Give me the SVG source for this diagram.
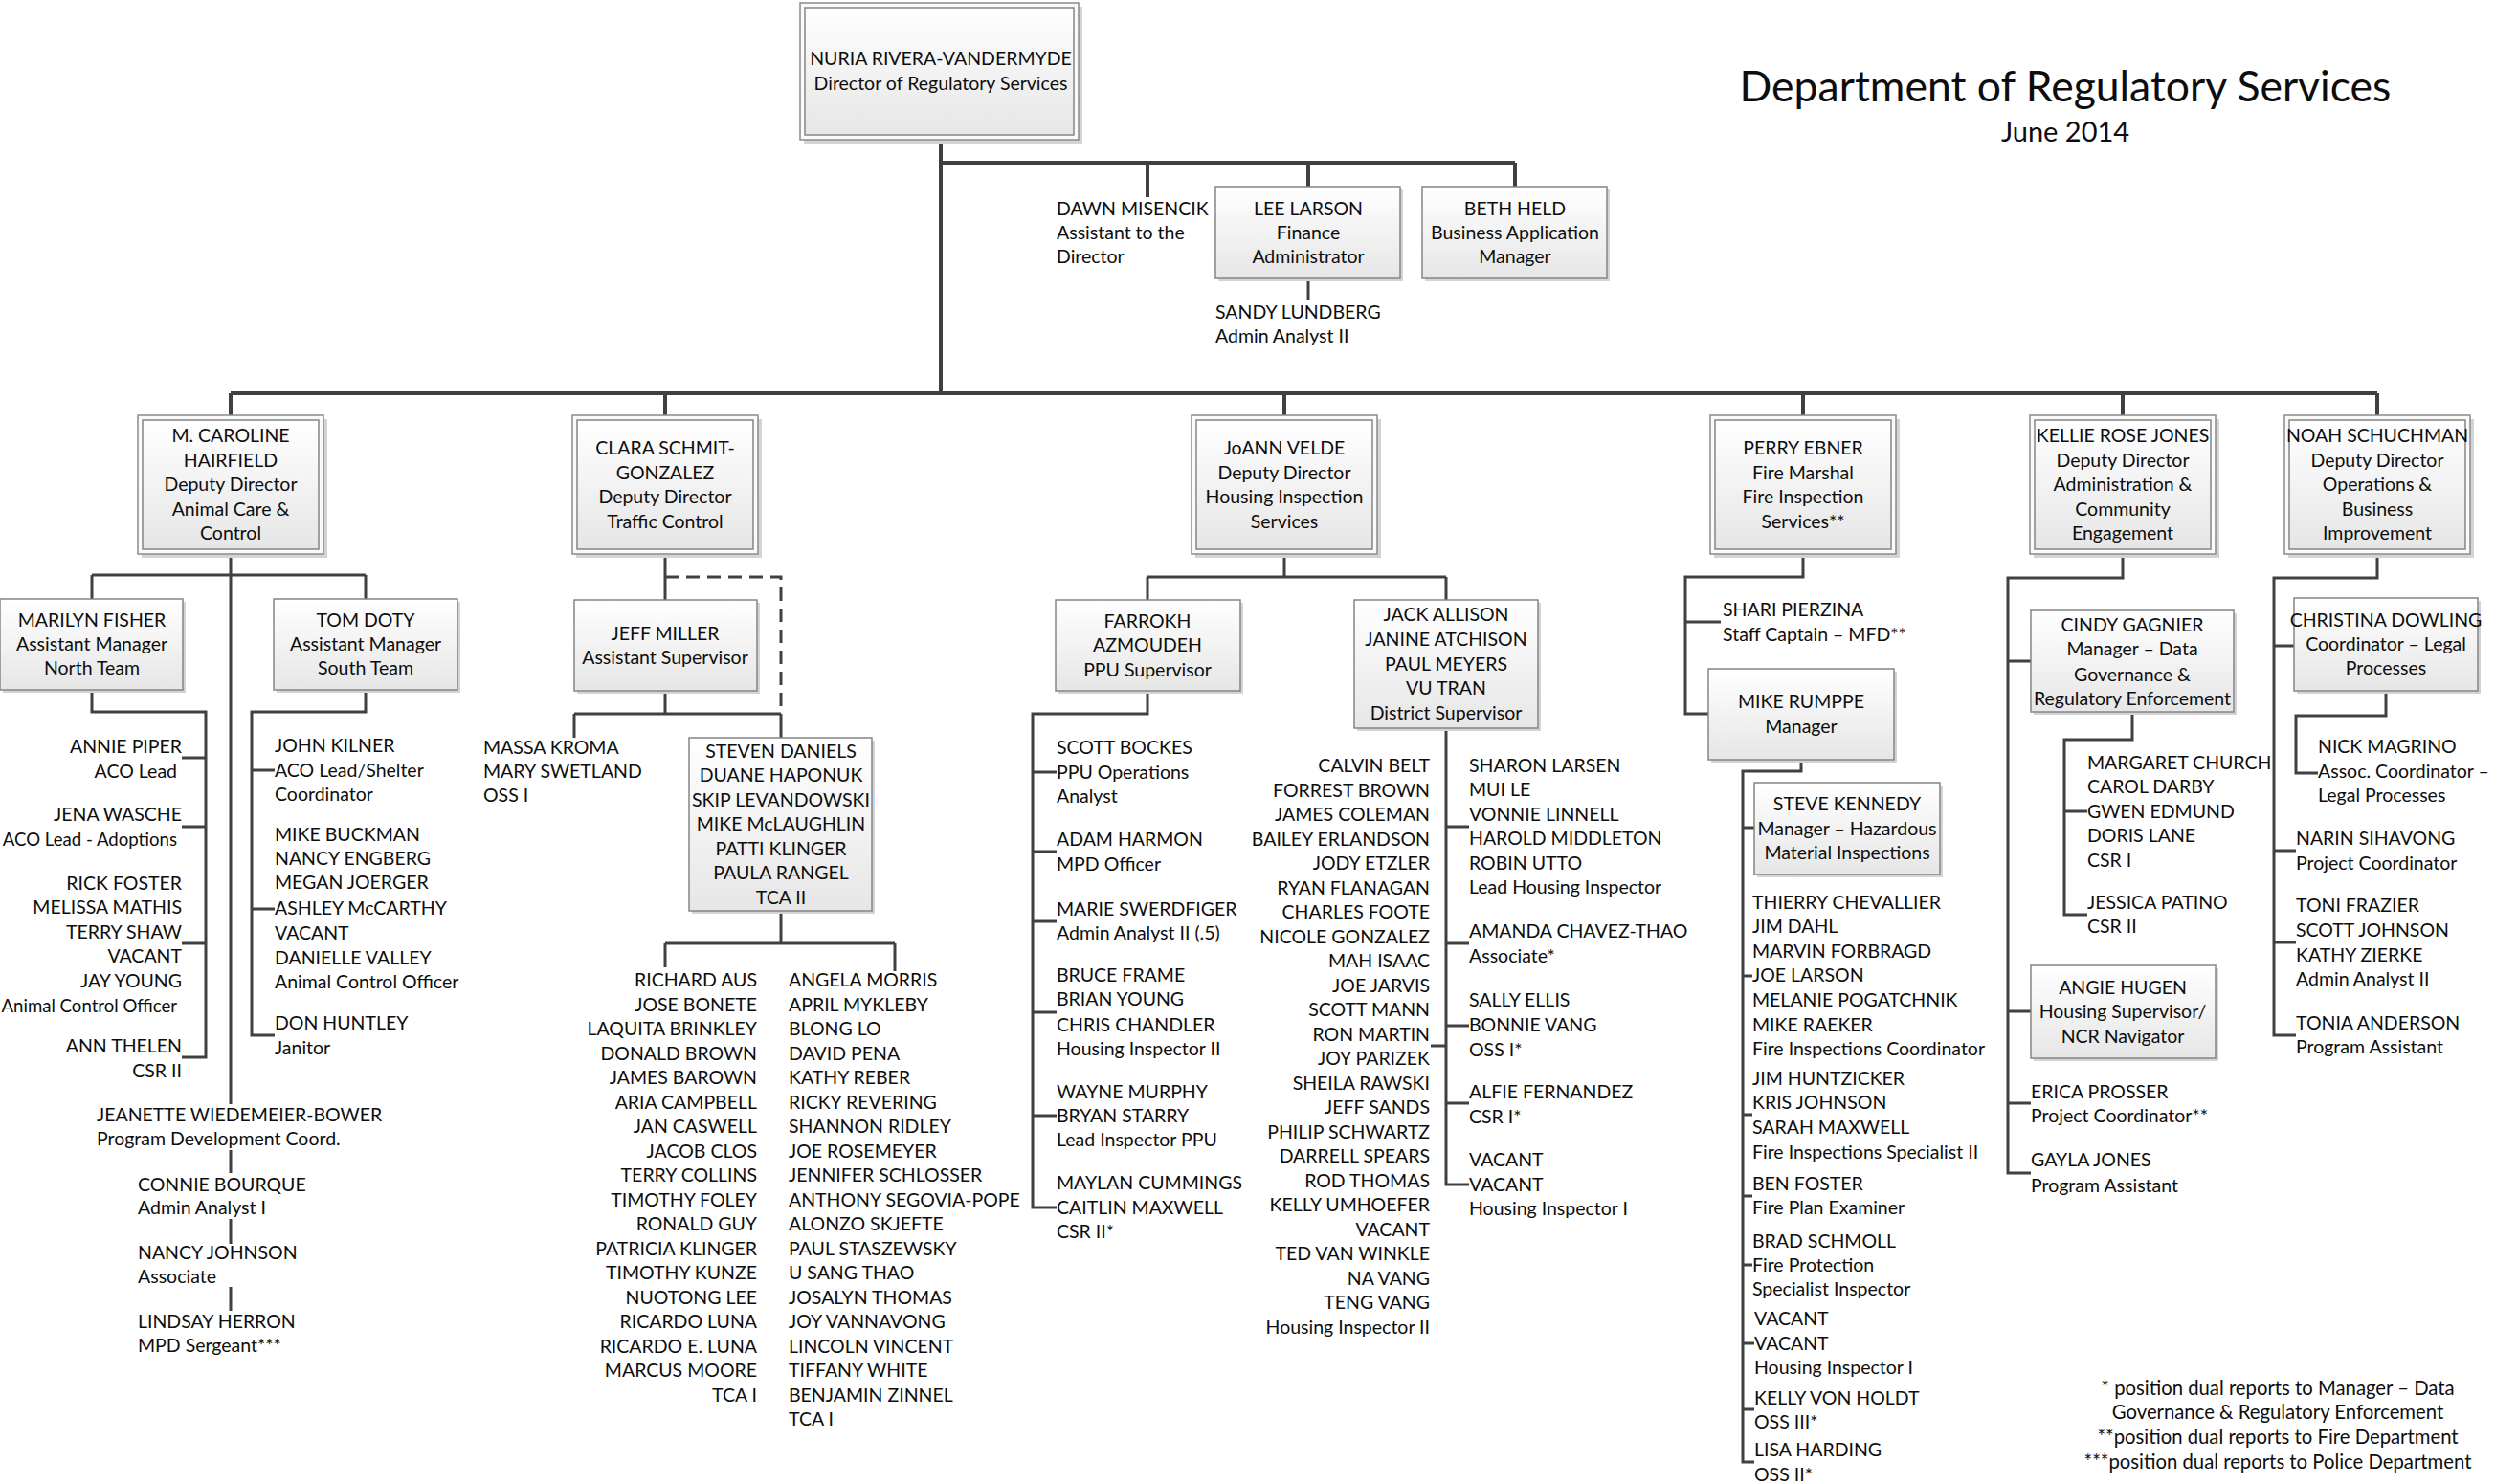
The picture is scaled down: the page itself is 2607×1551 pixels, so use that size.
<svg xmlns="http://www.w3.org/2000/svg" width="2607" height="1551" viewBox="0 0 2607 1551">
<style>
.t{font-family:Lato,"Open Sans","Liberation Sans",sans-serif;font-size:19.5px;fill:#0d0d0d}
.c{text-anchor:middle}
.r{text-anchor:end}
.sm{font-size:18.6px}
.sh{fill:#d4d4d4}
.b{fill:url(#g);stroke:#858585;stroke-width:1.5}
.bo{fill:#fafafa;stroke:#8a8a8a;stroke-width:1.5}
.ln{fill:none;stroke:#404040;stroke-width:3}
.lt{fill:none;stroke:#404040;stroke-width:4}
.ds{fill:none;stroke:#404040;stroke-width:3;stroke-dasharray:14 8}
</style>
<defs>
<linearGradient id="g" x1="0" y1="0" x2="0" y2="1"><stop offset="0" stop-color="#ffffff"/><stop offset="1" stop-color="#e6e6e6"/></linearGradient>
</defs>
<rect width="2607" height="1551" fill="#fff"/>

<g id="connectors">
<path class="lt" d="M983 146V411M983 170H1583M1199 170V206M1367 170V195M1583 170V195M241 411H2484M241 411V434M695 411V434M1342 411V434M1884 411V434M2218 411V434M2484 411V434"/>
<path class="ln" d="M1367 291V314"/>
<path class="ln" d="M241 579V1154M96 601H382M96 601V626M382 601V626"/>
<path class="ln" d="M96 721V744H215V1105H190M190 792H215M190 864H215M190 986H215"/>
<path class="ln" d="M382 721V744H263V1082H287M263 805H287M263 950H287"/>
<path class="ln" d="M241 1202V1226M241 1274V1300M241 1345V1370"/>
<path class="ln" d="M695 579V627M695 722V746M600 746H816M600 746V771M816 746V771M816 952V986M695 986H935M695 986V1011M935 986V1015"/>
<path class="ds" d="M695 603H816V746"/>
<path class="ln" d="M1342 579V603M1199 603H1511M1199 603V627M1511 603V627"/>
<path class="ln" d="M1199 722V746H1079V1262H1104M1079 807H1104M1079 890H1104M1079 963H1104M1079 1058H1104M1079 1166H1104"/>
<path class="ln" d="M1511 761V1238H1535M1495 1093H1511M1511 864H1535M1511 986H1535M1511 1072H1535M1511 1153H1535"/>
<path class="ln" d="M1884 579V603H1761V746H1785M1761 650H1798"/>
<path class="ln" d="M1882 794V806H1821V1528H1833M1821 865H1833M1821 1020H1831M1821 1165H1831M1821 1250H1831M1821 1322H1831M1821 1404H1833M1821 1473H1833"/>
<path class="ln" d="M2218 579V604H2098V1226H2122M2098 691H2122M2098 1057H2122M2098 1153H2122"/>
<path class="ln" d="M2228 744V773H2157V956H2181M2157 848H2181"/>
<path class="ln" d="M2484 579V604H2376V1082H2399M2376 675H2397M2376 889H2399M2376 985H2399"/>
<path class="ln" d="M2493 722V748H2399V808H2422"/>
</g>

<g id="title">
<text class="t c" x="2158" y="106" style="font-size:44.5px">Department of Regulatory Services</text>
<text class="t c" x="2158" y="148" style="font-size:29px">June 2014</text>
</g>

<g id="n-director">
<rect class="sh" x="840" y="7" width="291" height="143"/>
<rect class="bo" x="836" y="3" width="291" height="143"/>
<rect class="b" x="841" y="8" width="281" height="133"/>
<text class="t c"><tspan x="983" y="68">NURIA RIVERA-VANDERMYDE</tspan><tspan x="983" y="94">Director of Regulatory Services</tspan></text>
</g>

<g id="n-dawn"><text class="t"><tspan x="1104" y="225">DAWN MISENCIK</tspan><tspan x="1104" y="250">Assistant to the</tspan><tspan x="1104" y="275">Director</tspan></text></g>

<g id="n-lee">
<rect class="sh" x="1273" y="198" width="193" height="96"/>
<rect class="b" x="1270" y="195" width="193" height="96"/>
<text class="t c"><tspan x="1367" y="225">LEE LARSON</tspan><tspan x="1367" y="250">Finance</tspan><tspan x="1367" y="275">Administrator</tspan></text>
</g>
<g id="n-sandy"><text class="t"><tspan x="1270" y="333">SANDY LUNDBERG</tspan><tspan x="1270" y="358">Admin Analyst II</tspan></text></g>

<g id="n-beth">
<rect class="sh" x="1489" y="198" width="193" height="96"/>
<rect class="b" x="1486" y="195" width="193" height="96"/>
<text class="t c"><tspan x="1583" y="225">BETH HELD</tspan><tspan x="1583" y="250">Business Application</tspan><tspan x="1583" y="275">Manager</tspan></text>
</g>

<g id="n-caroline">
<rect class="sh" x="148" y="438" width="194" height="145"/>
<rect class="bo" x="144" y="434" width="194" height="145"/>
<rect class="b" x="149" y="439" width="184" height="135"/>
<text class="t c"><tspan x="241" y="462">M. CAROLINE</tspan><tspan x="241" y="488">HAIRFIELD</tspan><tspan x="241" y="513">Deputy Director</tspan><tspan x="241" y="539">Animal Care &amp;</tspan><tspan x="241" y="564">Control</tspan></text>
</g>
<g id="n-marilyn">
<rect class="sh" x="3" y="629" width="191" height="95"/>
<rect class="b" x="0" y="626" width="191" height="95"/>
<text class="t c"><tspan x="96" y="655">MARILYN FISHER</tspan><tspan x="96" y="680">Assistant Manager</tspan><tspan x="96" y="705">North Team</tspan></text>
</g>
<g id="n-tom">
<rect class="sh" x="289" y="629" width="192" height="95"/>
<rect class="b" x="286" y="626" width="192" height="95"/>
<text class="t c"><tspan x="382" y="655">TOM DOTY</tspan><tspan x="382" y="680">Assistant Manager</tspan><tspan x="382" y="705">South Team</tspan></text>
</g>
<g id="n-north-staff"><text class="t r">
<tspan x="190" y="787">ANNIE PIPER</tspan><tspan x="190" y="813">ACO Lead</tspan>
<tspan x="190" y="858">JENA WASCHE</tspan><tspan x="190" y="884" class="sm">ACO Lead - Adoptions</tspan>
<tspan x="190" y="930">RICK FOSTER</tspan><tspan x="190" y="955">MELISSA MATHIS</tspan><tspan x="190" y="981">TERRY SHAW</tspan><tspan x="190" y="1006">VACANT</tspan><tspan x="190" y="1032">JAY YOUNG</tspan><tspan x="190" y="1058" class="sm">Animal Control Officer</tspan>
<tspan x="190" y="1100">ANN THELEN</tspan><tspan x="190" y="1126">CSR II</tspan>
</text></g>
<g id="n-south-staff"><text class="t">
<tspan x="287" y="786">JOHN KILNER</tspan><tspan x="287" y="812">ACO Lead/Shelter</tspan><tspan x="287" y="837">Coordinator</tspan>
<tspan x="287" y="879">MIKE BUCKMAN</tspan><tspan x="287" y="904">NANCY ENGBERG</tspan><tspan x="287" y="929">MEGAN JOERGER</tspan><tspan x="287" y="956">ASHLEY McCARTHY</tspan><tspan x="287" y="982">VACANT</tspan><tspan x="287" y="1008">DANIELLE VALLEY</tspan><tspan x="287" y="1033">Animal Control Officer</tspan>
<tspan x="287" y="1076">DON HUNTLEY</tspan><tspan x="287" y="1102">Janitor</tspan>
</text></g>
<g id="n-jeanette"><text class="t"><tspan x="101" y="1172">JEANETTE WIEDEMEIER-BOWER</tspan><tspan x="101" y="1197">Program Development Coord.</tspan></text></g>
<g id="n-connie"><text class="t"><tspan x="144" y="1245">CONNIE BOURQUE</tspan><tspan x="144" y="1269">Admin Analyst I</tspan></text></g>
<g id="n-nancy"><text class="t"><tspan x="144" y="1316">NANCY JOHNSON</tspan><tspan x="144" y="1341">Associate</tspan></text></g>
<g id="n-lindsay"><text class="t"><tspan x="144" y="1388">LINDSAY HERRON</tspan><tspan x="144" y="1413">MPD Sergeant***</tspan></text></g>

<g id="n-clara">
<rect class="sh" x="602" y="438" width="194" height="145"/>
<rect class="bo" x="598" y="434" width="194" height="145"/>
<rect class="b" x="603" y="439" width="184" height="135"/>
<text class="t c"><tspan x="695" y="475">CLARA SCHMIT-</tspan><tspan x="695" y="501">GONZALEZ</tspan><tspan x="695" y="526">Deputy Director</tspan><tspan x="695" y="552">Traffic Control</tspan></text>
</g>
<g id="n-jeff">
<rect class="sh" x="603" y="630" width="191" height="95"/>
<rect class="b" x="600" y="627" width="191" height="95"/>
<text class="t c"><tspan x="695" y="669">JEFF MILLER</tspan><tspan x="695" y="694">Assistant Supervisor</tspan></text>
</g>
<g id="n-massa"><text class="t"><tspan x="505" y="788">MASSA KROMA</tspan><tspan x="505" y="813">MARY SWETLAND</tspan><tspan x="505" y="838">OSS I</tspan></text></g>
<g id="n-steven">
<rect class="sh" x="723" y="774" width="191" height="181"/>
<rect class="b" x="720" y="771" width="191" height="181"/>
<text class="t c"><tspan x="816" y="792">STEVEN DANIELS</tspan><tspan x="816" y="817">DUANE HAPONUK</tspan><tspan x="816" y="843">SKIP LEVANDOWSKI</tspan><tspan x="816" y="868">MIKE McLAUGHLIN</tspan><tspan x="816" y="894">PATTI KLINGER</tspan><tspan x="816" y="919">PAULA RANGEL</tspan><tspan x="816" y="945">TCA II</tspan></text>
</g>
<g id="n-tca-left"><text class="t r">
<tspan x="791" y="1031">RICHARD AUS</tspan><tspan x="791" y="1056.5">JOSE BONETE</tspan><tspan x="791" y="1082">LAQUITA BRINKLEY</tspan><tspan x="791" y="1107.5">DONALD BROWN</tspan><tspan x="791" y="1133">JAMES BAROWN</tspan><tspan x="791" y="1158.5">ARIA CAMPBELL</tspan><tspan x="791" y="1184">JAN CASWELL</tspan><tspan x="791" y="1209.5">JACOB CLOS</tspan><tspan x="791" y="1235">TERRY COLLINS</tspan><tspan x="791" y="1260.5">TIMOTHY FOLEY</tspan><tspan x="791" y="1286">RONALD GUY</tspan><tspan x="791" y="1311.5">PATRICIA KLINGER</tspan><tspan x="791" y="1337">TIMOTHY KUNZE</tspan><tspan x="791" y="1362.5">NUOTONG LEE</tspan><tspan x="791" y="1388">RICARDO LUNA</tspan><tspan x="791" y="1413.5">RICARDO E. LUNA</tspan><tspan x="791" y="1439">MARCUS MOORE</tspan><tspan x="791" y="1464.5">TCA I</tspan>
</text></g>
<g id="n-tca-right"><text class="t">
<tspan x="824" y="1031">ANGELA MORRIS</tspan><tspan x="824" y="1056.5">APRIL MYKLEBY</tspan><tspan x="824" y="1082">BLONG LO</tspan><tspan x="824" y="1107.5">DAVID PENA</tspan><tspan x="824" y="1133">KATHY REBER</tspan><tspan x="824" y="1158.5">RICKY REVERING</tspan><tspan x="824" y="1184">SHANNON RIDLEY</tspan><tspan x="824" y="1209.5">JOE ROSEMEYER</tspan><tspan x="824" y="1235">JENNIFER SCHLOSSER</tspan><tspan x="824" y="1260.5">ANTHONY SEGOVIA-POPE</tspan><tspan x="824" y="1286">ALONZO SKJEFTE</tspan><tspan x="824" y="1311.5">PAUL STASZEWSKY</tspan><tspan x="824" y="1337">U SANG THAO</tspan><tspan x="824" y="1362.5">JOSALYN THOMAS</tspan><tspan x="824" y="1388">JOY VANNAVONG</tspan><tspan x="824" y="1413.5">LINCOLN VINCENT</tspan><tspan x="824" y="1439">TIFFANY WHITE</tspan><tspan x="824" y="1464.5">BENJAMIN ZINNEL</tspan><tspan x="824" y="1490">TCA I</tspan>
</text></g>

<g id="n-joann">
<rect class="sh" x="1249" y="438" width="194" height="145"/>
<rect class="bo" x="1245" y="434" width="194" height="145"/>
<rect class="b" x="1250" y="439" width="184" height="135"/>
<text class="t c"><tspan x="1342" y="475">JoANN VELDE</tspan><tspan x="1342" y="501">Deputy Director</tspan><tspan x="1342" y="526">Housing Inspection</tspan><tspan x="1342" y="552">Services</tspan></text>
</g>
<g id="n-farrokh">
<rect class="sh" x="1106" y="630" width="193" height="95"/>
<rect class="b" x="1103" y="627" width="193" height="95"/>
<text class="t c"><tspan x="1199" y="656">FARROKH</tspan><tspan x="1199" y="681">AZMOUDEH</tspan><tspan x="1199" y="707">PPU Supervisor</tspan></text>
</g>
<g id="n-jack">
<rect class="sh" x="1418" y="630" width="192" height="134"/>
<rect class="b" x="1415" y="627" width="192" height="134"/>
<text class="t c"><tspan x="1511" y="649">JACK ALLISON</tspan><tspan x="1511" y="675">JANINE ATCHISON</tspan><tspan x="1511" y="701">PAUL MEYERS</tspan><tspan x="1511" y="726">VU TRAN</tspan><tspan x="1511" y="752">District Supervisor</tspan></text>
</g>
<g id="n-ppu-staff"><text class="t">
<tspan x="1104" y="788">SCOTT BOCKES</tspan><tspan x="1104" y="814">PPU Operations</tspan><tspan x="1104" y="839">Analyst</tspan>
<tspan x="1104" y="884">ADAM HARMON</tspan><tspan x="1104" y="910">MPD Officer</tspan>
<tspan x="1104" y="957">MARIE SWERDFIGER</tspan><tspan x="1104" y="982">Admin Analyst II (.5)</tspan>
<tspan x="1104" y="1026">BRUCE FRAME</tspan><tspan x="1104" y="1051">BRIAN YOUNG</tspan><tspan x="1104" y="1078">CHRIS CHANDLER</tspan><tspan x="1104" y="1103">Housing Inspector II</tspan>
<tspan x="1104" y="1148">WAYNE MURPHY</tspan><tspan x="1104" y="1173">BRYAN STARRY</tspan><tspan x="1104" y="1198">Lead Inspector PPU</tspan>
<tspan x="1104" y="1243">MAYLAN CUMMINGS</tspan><tspan x="1104" y="1269">CAITLIN MAXWELL</tspan><tspan x="1104" y="1294">CSR II*</tspan>
</text></g>
<g id="n-district-left"><text class="t r">
<tspan x="1494" y="807">CALVIN BELT</tspan><tspan x="1494" y="832.5">FORREST BROWN</tspan><tspan x="1494" y="858">JAMES COLEMAN</tspan><tspan x="1494" y="883.5">BAILEY ERLANDSON</tspan><tspan x="1494" y="909">JODY ETZLER</tspan><tspan x="1494" y="934.5">RYAN FLANAGAN</tspan><tspan x="1494" y="960">CHARLES FOOTE</tspan><tspan x="1494" y="985.5">NICOLE GONZALEZ</tspan><tspan x="1494" y="1011">MAH ISAAC</tspan><tspan x="1494" y="1036.5">JOE JARVIS</tspan><tspan x="1494" y="1062">SCOTT MANN</tspan><tspan x="1494" y="1087.5">RON MARTIN</tspan><tspan x="1494" y="1113">JOY PARIZEK</tspan><tspan x="1494" y="1138.5">SHEILA RAWSKI</tspan><tspan x="1494" y="1164">JEFF SANDS</tspan><tspan x="1494" y="1189.5">PHILIP SCHWARTZ</tspan><tspan x="1494" y="1215">DARRELL SPEARS</tspan><tspan x="1494" y="1240.5">ROD THOMAS</tspan><tspan x="1494" y="1266">KELLY UMHOEFER</tspan><tspan x="1494" y="1291.5">VACANT</tspan><tspan x="1494" y="1317">TED VAN WINKLE</tspan><tspan x="1494" y="1342.5">NA VANG</tspan><tspan x="1494" y="1368">TENG VANG</tspan><tspan x="1494" y="1393.5">Housing Inspector II</tspan>
</text></g>
<g id="n-district-right"><text class="t">
<tspan x="1535" y="807">SHARON LARSEN</tspan><tspan x="1535" y="832">MUI LE</tspan><tspan x="1535" y="858">VONNIE LINNELL</tspan><tspan x="1535" y="883">HAROLD MIDDLETON</tspan><tspan x="1535" y="909">ROBIN UTTO</tspan><tspan x="1535" y="934">Lead Housing Inspector</tspan>
<tspan x="1535" y="980">AMANDA CHAVEZ-THAO</tspan><tspan x="1535" y="1006">Associate*</tspan>
<tspan x="1535" y="1052">SALLY ELLIS</tspan><tspan x="1535" y="1078">BONNIE VANG</tspan><tspan x="1535" y="1104">OSS I*</tspan>
<tspan x="1535" y="1148">ALFIE FERNANDEZ</tspan><tspan x="1535" y="1174">CSR I*</tspan>
<tspan x="1535" y="1219">VACANT</tspan><tspan x="1535" y="1245">VACANT</tspan><tspan x="1535" y="1270">Housing Inspector I</tspan>
</text></g>

<g id="n-perry">
<rect class="sh" x="1791" y="438" width="194" height="145"/>
<rect class="bo" x="1787" y="434" width="194" height="145"/>
<rect class="b" x="1792" y="439" width="184" height="135"/>
<text class="t c"><tspan x="1884" y="475">PERRY EBNER</tspan><tspan x="1884" y="501">Fire Marshal</tspan><tspan x="1884" y="526">Fire Inspection</tspan><tspan x="1884" y="552">Services**</tspan></text>
</g>
<g id="n-shari"><text class="t"><tspan x="1800" y="644">SHARI PIERZINA</tspan><tspan x="1800" y="670">Staff Captain – MFD**</tspan></text></g>
<g id="n-mike">
<rect class="sh" x="1788" y="702" width="194" height="95"/>
<rect class="b" x="1785" y="699" width="194" height="95"/>
<text class="t c"><tspan x="1882" y="740">MIKE RUMPPE</tspan><tspan x="1882" y="766">Manager</tspan></text>
</g>
<g id="n-steve">
<rect class="sh" x="1836" y="821" width="194" height="96"/>
<rect class="b" x="1833" y="818" width="194" height="96"/>
<text class="t c"><tspan x="1930" y="847">STEVE KENNEDY</tspan><tspan x="1930" y="873">Manager – Hazardous</tspan><tspan x="1930" y="898">Material Inspections</tspan></text>
</g>
<g id="n-fire-staff"><text class="t">
<tspan x="1831" y="950">THIERRY CHEVALLIER</tspan><tspan x="1831" y="975">JIM DAHL</tspan><tspan x="1831" y="1001">MARVIN FORBRAGD</tspan><tspan x="1831" y="1026">JOE LARSON</tspan><tspan x="1831" y="1052">MELANIE POGATCHNIK</tspan><tspan x="1831" y="1078">MIKE RAEKER</tspan><tspan x="1831" y="1103">Fire Inspections Coordinator</tspan>
<tspan x="1831" y="1134">JIM HUNTZICKER</tspan><tspan x="1831" y="1159">KRIS JOHNSON</tspan><tspan x="1831" y="1185">SARAH MAXWELL</tspan><tspan x="1831" y="1211">Fire Inspections Specialist II</tspan>
<tspan x="1831" y="1244">BEN FOSTER</tspan><tspan x="1831" y="1269">Fire Plan Examiner</tspan>
<tspan x="1831" y="1304">BRAD SCHMOLL</tspan><tspan x="1831" y="1329">Fire Protection</tspan><tspan x="1831" y="1354">Specialist Inspector</tspan>
<tspan x="1833" y="1385">VACANT</tspan><tspan x="1833" y="1411">VACANT</tspan><tspan x="1833" y="1436">Housing Inspector I</tspan>
<tspan x="1833" y="1468">KELLY VON HOLDT</tspan><tspan x="1833" y="1493">OSS III*</tspan>
<tspan x="1833" y="1522">LISA HARDING</tspan><tspan x="1833" y="1548">OSS II*</tspan>
</text></g>

<g id="n-kellie">
<rect class="sh" x="2125" y="438" width="194" height="145"/>
<rect class="bo" x="2121" y="434" width="194" height="145"/>
<rect class="b" x="2126" y="439" width="184" height="135"/>
<text class="t c"><tspan x="2218" y="462">KELLIE ROSE JONES</tspan><tspan x="2218" y="488">Deputy Director</tspan><tspan x="2218" y="513">Administration &amp;</tspan><tspan x="2218" y="539">Community</tspan><tspan x="2218" y="564">Engagement</tspan></text>
</g>
<g id="n-cindy">
<rect class="sh" x="2125" y="641" width="212" height="106"/>
<rect class="b" x="2122" y="638" width="212" height="106"/>
<text class="t c"><tspan x="2228" y="660">CINDY GAGNIER</tspan><tspan x="2228" y="685">Manager – Data</tspan><tspan x="2228" y="712">Governance &amp;</tspan><tspan x="2228" y="737">Regulatory Enforcement</tspan></text>
</g>
<g id="n-cindy-staff"><text class="t">
<tspan x="2181" y="804">MARGARET CHURCH</tspan><tspan x="2181" y="829">CAROL DARBY</tspan><tspan x="2181" y="855">GWEN EDMUND</tspan><tspan x="2181" y="880">DORIS LANE</tspan><tspan x="2181" y="906">CSR I</tspan>
<tspan x="2181" y="950">JESSICA PATINO</tspan><tspan x="2181" y="975">CSR II</tspan>
</text></g>
<g id="n-angie">
<rect class="sh" x="2125" y="1012" width="193" height="97"/>
<rect class="b" x="2122" y="1009" width="193" height="97"/>
<text class="t c"><tspan x="2218" y="1039">ANGIE HUGEN</tspan><tspan x="2218" y="1064">Housing Supervisor/</tspan><tspan x="2218" y="1090">NCR Navigator</tspan></text>
</g>
<g id="n-erica"><text class="t"><tspan x="2122" y="1148">ERICA PROSSER</tspan><tspan x="2122" y="1173">Project Coordinator**</tspan></text></g>
<g id="n-gayla"><text class="t"><tspan x="2122" y="1219">GAYLA JONES</tspan><tspan x="2122" y="1246">Program Assistant</tspan></text></g>

<g id="n-noah">
<rect class="sh" x="2391" y="438" width="194" height="145"/>
<rect class="bo" x="2387" y="434" width="194" height="145"/>
<rect class="b" x="2392" y="439" width="184" height="135"/>
<text class="t c"><tspan x="2484" y="462">NOAH SCHUCHMAN</tspan><tspan x="2484" y="488">Deputy Director</tspan><tspan x="2484" y="513">Operations &amp;</tspan><tspan x="2484" y="539">Business</tspan><tspan x="2484" y="564">Improvement</tspan></text>
</g>
<g id="n-christina">
<rect class="sh" x="2400" y="628" width="192" height="97"/>
<rect class="b" x="2397" y="625" width="192" height="97"/>
<text class="t c"><tspan x="2493" y="655">CHRISTINA DOWLING</tspan><tspan x="2493" y="680">Coordinator – Legal</tspan><tspan x="2493" y="705">Processes</tspan></text>
</g>
<g id="n-nick"><text class="t"><tspan x="2422" y="787">NICK MAGRINO</tspan><tspan x="2422" y="813">Assoc. Coordinator –</tspan><tspan x="2422" y="838">Legal Processes</tspan></text></g>
<g id="n-narin"><text class="t"><tspan x="2399" y="883">NARIN SIHAVONG</tspan><tspan x="2399" y="909">Project Coordinator</tspan></text></g>
<g id="n-toni"><text class="t"><tspan x="2399" y="953">TONI FRAZIER</tspan><tspan x="2399" y="979">SCOTT JOHNSON</tspan><tspan x="2399" y="1005">KATHY ZIERKE</tspan><tspan x="2399" y="1030">Admin Analyst II</tspan></text></g>
<g id="n-tonia"><text class="t"><tspan x="2399" y="1076">TONIA ANDERSON</tspan><tspan x="2399" y="1101">Program Assistant</tspan></text></g>

<g id="footnote"><text class="t c" style="font-size:20.3px">
<tspan x="2380" y="1458">* position dual reports to Manager – Data</tspan><tspan x="2380" y="1483">Governance &amp; Regulatory Enforcement</tspan><tspan x="2380" y="1509">**position dual reports to Fire Department</tspan><tspan x="2380" y="1535">***position dual reports to Police Department</tspan>
</text></g>
</svg>
